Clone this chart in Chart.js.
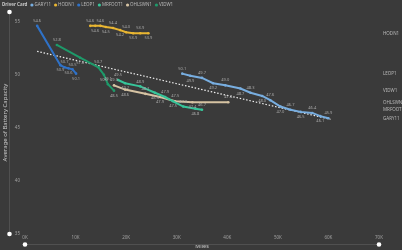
<!DOCTYPE html>
<html>
<head>
<meta charset="utf-8">
<script src="https://cdn.jsdelivr.net/npm/chart.js@4.4.1/dist/chart.umd.min.js"></script>
<style>
  html, body { margin: 0; padding: 0; background: #3a3a3a; }
  #wrap { width: 402px; height: 250px; }
</style>
</head>
<body>
<div id="wrap"><canvas id="myChart" width="402" height="250"></canvas></div>
<script>
// series data (miles, average battery capacity)
const seriesNames = ['GARY11', 'HODN1', 'LEOP1', 'MRFOOT1', 'OHLSWN1', 'VIDW1'];
const seriesColors = ['#78aee0', '#e9b632', '#2f72c8', '#37c59a', '#d6c3a3', '#1e9a6a'];

const garyMiles = [31100, 32700, 35000, 37200, 39600, 42600, 44600, 46900, 48500, 50500, 52500, 54500, 56800, 58400, 60000];
const garyCap = [50.1, 49.9, 49.7, 49.2, 49.0, 48.7, 48.3, 48.0, 47.6, 47.0, 46.7, 46.5, 46.4, 46.1, 45.9];

const hodnMiles = [12900, 13900, 14900, 16000, 17400, 18800, 20000, 21400, 22800, 24400];
const hodnCap = [54.6, 54.6, 54.6, 54.5, 54.4, 54.2, 54.0, 53.9, 53.9, 53.9];

const leopMiles = [2400, 7000, 7800, 8600, 9400, 10100];
const leopCap = [54.6, 50.9, 50.7, 50.6, 50.5, 50.1];

const mrfootMiles = [18400, 19800, 22800, 25700, 27700, 29300, 31300, 33700, 35000];
const mrfootCap = [49.5, 49.2, 48.9, 48.3, 47.9, 47.5, 47.0, 46.8, 46.7];

const ohlswnMiles = [17600, 19800, 23800, 26700, 29700, 33100, 40200];
const ohlswnCap = [49.0, 48.6, 48.2, 47.9, 47.5, 47.4, 47.4];

const vidwMiles = [6300, 10900, 14500, 15600, 16400, 17600];
const vidwCap = [52.8, 51.6, 50.7, 50.0, 49.1, 48.5];

const trendMiles = [2400, 60400];
const trendCap = [52.2, 45.8];

const xTicks = [0, 10000, 20000, 30000, 40000, 50000, 60000, 70000];
const yTicks = [35, 40, 45, 50, 55];

const FONT = 'Noto Sans';
const TXT = '#b8b8b8';

function pts(xs, ys) { return xs.map((x, i) => ({ x: x, y: ys[i] })); }

const allMiles = [garyMiles, hodnMiles, leopMiles, mrfootMiles, ohlswnMiles, vidwMiles];
const allCap = [garyCap, hodnCap, leopCap, mrfootCap, ohlswnCap, vidwCap];

const datasets = seriesNames.map((name, i) => ({
  label: name,
  data: pts(allMiles[i], allCap[i]),
  borderColor: seriesColors[i],
  backgroundColor: seriesColors[i],
  borderWidth: 2,
  pointRadius: 1.3,
  pointBorderWidth: 0,
  tension: 0
}));
datasets.push({
  label: 'trend',
  data: pts(trendMiles, trendCap),
  borderColor: '#f0f0f0',
  borderWidth: 1.2,
  borderDash: [1.5, 1.8],
  pointRadius: 0,
  isTrend: true
});

// value labels on points
const valueLabels = {
  id: 'valueLabels',
  afterDatasetsDraw(chart) {
    const ctx = chart.ctx;
    ctx.save();
    ctx.font = '4px ' + FONT;
    ctx.fillStyle = '#a8a8a8';
    ctx.textAlign = 'center';
    ctx.textBaseline = 'middle';
    chart.data.datasets.forEach((ds, di) => {
      if (ds.isTrend) return;
      chart.getDatasetMeta(di).data.forEach((p, j) => {
        const dy = j % 2 === 0 ? -5 : 5;
        ctx.fillText(ds.data[j].y.toFixed(1), p.x, p.y + dy);
      });
    });
    ctx.restore();
  }
};

// series names at the right edge
const endLabels = {
  id: 'endLabels',
  afterDatasetsDraw(chart) {
    const ctx = chart.ctx;
    const ys = chart.scales.y;
    ctx.save();
    ctx.font = '4.5px ' + FONT;
    ctx.fillStyle = TXT;
    ctx.textAlign = 'left';
    ctx.textBaseline = 'middle';
    const items = seriesNames.map((n, i) => ({ n: n, y: ys.getPixelForValue(allCap[i][allCap[i].length - 1]) }));
    items.sort((a, b) => a.y - b.y);
    for (let k = 1; k < items.length; k++) {
      if (items[k].y - items[k - 1].y < 7) items[k].y = items[k - 1].y + 7;
    }
    items.forEach(it => ctx.fillText(it.n, chart.chartArea.right + 4, it.y));
    ctx.restore();
  }
};

// legend row at top
const topLegend = {
  id: 'topLegend',
  afterDraw(chart) {
    const ctx = chart.ctx;
    ctx.save();
    ctx.textBaseline = 'middle';
    ctx.textAlign = 'left';
    let x = 2;
    const y = 5;
    ctx.font = 'bold 4.5px ' + FONT;
    ctx.fillStyle = '#c8c8c8';
    ctx.fillText('Driver Card', x, y);
    x += ctx.measureText('Driver Card').width + 3;
    ctx.font = '4.5px ' + FONT;
    seriesNames.forEach((n, i) => {
      ctx.fillStyle = seriesColors[i];
      ctx.beginPath();
      ctx.arc(x + 1.5, y, 1.6, 0, Math.PI * 2);
      ctx.fill();
      ctx.fillStyle = TXT;
      ctx.fillText(n, x + 4, y);
      x += 4 + ctx.measureText(n).width + 3;
    });
    ctx.restore();
  }
};

// zoom slider bars
const sliders = {
  id: 'sliders',
  afterDraw(chart) {
    const ctx = chart.ctx;
    const a = chart.chartArea;
    ctx.save();
    ctx.strokeStyle = '#505050';
    ctx.lineWidth = 1;
    ctx.beginPath();
    ctx.moveTo(9.5, a.top + 1);
    ctx.lineTo(9.5, a.bottom);
    ctx.moveTo(a.left, 244.5);
    ctx.lineTo(a.right, 244.5);
    ctx.stroke();
    ctx.fillStyle = '#ffffff';
    [[9.5, a.top + 1], [9.5, a.bottom], [a.left, 244.5], [a.right, 244.5]].forEach(p => {
      ctx.beginPath();
      ctx.arc(p[0], p[1], 2.3, 0, Math.PI * 2);
      ctx.fill();
    });
    ctx.restore();
  }
};

Chart.defaults.font.family = FONT;
Chart.defaults.color = TXT;

new Chart(document.getElementById('myChart'), {
  type: 'line',
  data: { datasets: datasets },
  options: {
    responsive: false,
    animation: false,
    layout: { padding: { top: 11, right: 23, left: 0, bottom: 0 } },
    plugins: { legend: { display: false }, tooltip: { enabled: false } },
    scales: {
      x: {
        type: 'linear',
        min: 0,
        max: 70000,
        afterFit: s => { s.height = 16; },
        afterBuildTicks: s => { s.ticks = xTicks.map(v => ({ value: v })); },
        grid: { display: false, drawTicks: false },
        border: { display: false },
        ticks: {
          padding: 1,
          font: { size: 4.5 },
          color: '#a0a0a0',
          maxRotation: 0,
          callback: v => (v / 1000) + 'K'
        },
        title: { display: true, text: 'Miles', font: { size: 5.5 }, color: '#c8c8c8', padding: { top: 0, bottom: 0 } }
      },
      y: {
        min: 35,
        max: 56,
        afterFit: s => { s.width = 25; },
        afterBuildTicks: s => { s.ticks = yTicks.map(v => ({ value: v })); },
        grid: { display: false, drawTicks: false },
        border: { display: false },
        ticks: { padding: 5, font: { size: 4.5 }, color: '#a0a0a0' },
        title: { display: true, text: 'Average of Battery Capacity', font: { size: 6 }, color: '#c8c8c8', padding: { top: 1.5, bottom: 0 } }
      }
    }
  },
  plugins: [valueLabels, endLabels, topLegend, sliders]
});
</script>
</body>
</html>
